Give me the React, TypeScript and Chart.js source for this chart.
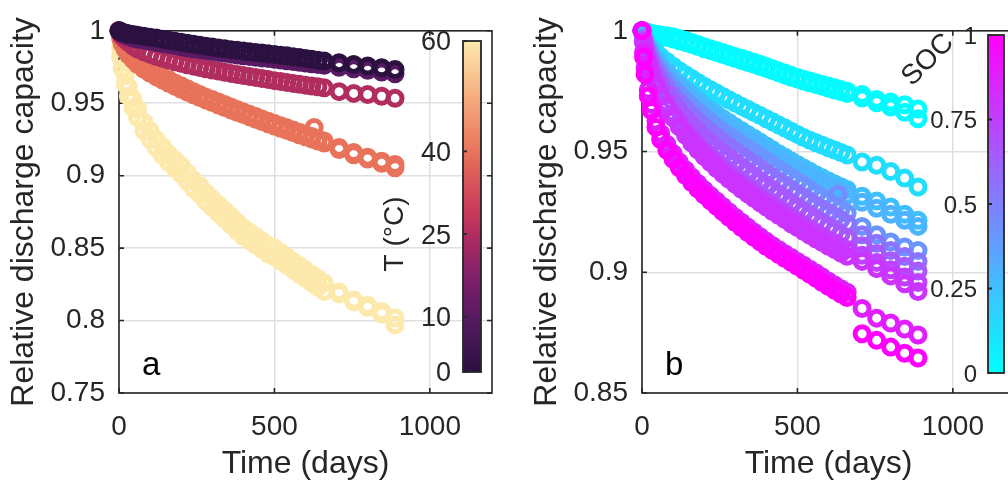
import React, { useEffect, useRef } from 'react';
import { Chart, registerables } from 'chart.js';

Chart.register(...registerables);

const FONT = "'Liberation Sans', Arial, Helvetica, sans-serif";
const INK = '#262626';

// ---------- shared x data (days) ----------
const DAYS = [0, 5, 10, 20, 30, 45, 60, 80, 100, 120, 140, 160, 180, 200, 220, 240, 260, 280, 300, 320, 340, 360, 380, 400, 420, 440, 460, 480, 500, 520, 540, 560, 580, 600, 620, 640, 660, 708, 755, 800, 845, 888];
const X_TICKS = [0, 500, 1000];
const X_MAX = 1200;

// ---------- panel a: temperature ----------
const A_Y_TICKS = [0.75, 0.8, 0.85, 0.9, 0.95, 1];
const A_CBAR_TICKS = [0, 10, 25, 40, 60];
const A_T0 = [1.0, 0.9995, 0.999, 0.9985, 0.998, 0.9975, 0.997, 0.9963, 0.9955, 0.995, 0.9942, 0.9935, 0.9928, 0.9921, 0.9914, 0.9907, 0.99, 0.9894, 0.9888, 0.9882, 0.9876, 0.987, 0.9865, 0.986, 0.9855, 0.985, 0.9846, 0.9842, 0.9837, 0.9832, 0.9827, 0.9821, 0.9815, 0.9809, 0.9803, 0.9797, 0.9792, 0.978, 0.9768, 0.9757, 0.9745, 0.9733];
const A_T10 = [1.0, 0.999, 0.998, 0.997, 0.996, 0.995, 0.9943, 0.9935, 0.9928, 0.992, 0.9912, 0.9905, 0.9898, 0.989, 0.9883, 0.9876, 0.987, 0.9863, 0.9857, 0.9851, 0.9845, 0.9839, 0.9833, 0.9828, 0.9823, 0.9818, 0.9813, 0.9808, 0.9803, 0.9798, 0.9793, 0.9788, 0.9783, 0.9778, 0.9772, 0.9767, 0.9762, 0.9748, 0.9738, 0.9727, 0.9716, 0.9703];
const A_T25 = [1.0, 0.998, 0.996, 0.994, 0.992, 0.9895, 0.9875, 0.9855, 0.9838, 0.9822, 0.981, 0.9798, 0.9787, 0.9776, 0.9766, 0.9756, 0.9747, 0.9738, 0.973, 0.9722, 0.9714, 0.9706, 0.9698, 0.9691, 0.9684, 0.9677, 0.967, 0.9663, 0.9656, 0.965, 0.9643, 0.9637, 0.9631, 0.9625, 0.9619, 0.9613, 0.9607, 0.958, 0.9568, 0.956, 0.9548, 0.9534];
const A_T40 = [1.0, 0.997, 0.994, 0.99, 0.987, 0.9835, 0.98, 0.9765, 0.9735, 0.971, 0.9685, 0.9662, 0.964, 0.962, 0.96, 0.958, 0.956, 0.9542, 0.9525, 0.9508, 0.9491, 0.9474, 0.9457, 0.944, 0.9424, 0.9408, 0.9392, 0.9376, 0.936, 0.9345, 0.933, 0.9315, 0.93, 0.9285, 0.927, 0.9255, 0.924, 0.9195, 0.916, 0.9128, 0.91, 0.9077];
const A_T40B = [1.0, 0.995, 0.991, 0.987, 0.9835, 0.98, 0.9768, 0.9735, 0.9707, 0.9683, 0.966, 0.9638, 0.9617, 0.9597, 0.9577, 0.9558, 0.954, 0.9522, 0.9505, 0.9488, 0.9471, 0.9454, 0.9438, 0.9422, 0.9406, 0.939, 0.9374, 0.9358, 0.9343, 0.9328, 0.9313, 0.9298, 0.9283, 0.9268, 0.9254, 0.924, 0.9226, 0.918, 0.9145, 0.9115, 0.9085, 0.9055];
const A_T60A = [1.0, 0.988, 0.98, 0.969, 0.961, 0.953, 0.946, 0.937, 0.931, 0.925, 0.92, 0.915, 0.911, 0.907, 0.902, 0.897, 0.893, 0.888, 0.884, 0.88, 0.876, 0.872, 0.868, 0.864, 0.861, 0.858, 0.855, 0.852, 0.85, 0.847, 0.844, 0.841, 0.838, 0.835, 0.832, 0.829, 0.826, 0.8198, 0.8142, 0.8105, 0.8062, 0.8018];
const A_T60B = [1.0, 0.982, 0.974, 0.963, 0.955, 0.947, 0.94, 0.931, 0.925, 0.919, 0.914, 0.909, 0.905, 0.901, 0.896, 0.891, 0.887, 0.882, 0.878, 0.874, 0.87, 0.866, 0.862, 0.858, 0.855, 0.852, 0.849, 0.846, 0.844, 0.841, 0.838, 0.835, 0.832, 0.829, 0.826, 0.823, 0.82, 0.8185, 0.813, 0.809, 0.8045, 0.797];
const A_STRAY_DAYS = [628];
const A_STRAY_CAP = [0.9333];

// ---------- panel b: state of charge ----------
const B_Y_TICKS = [0.85, 0.9, 0.95, 1];
const B_CBAR_TICKS = [0, 0.25, 0.5, 0.75, 1];
const B_S1 = [1.0, 0.9998, 0.9996, 0.9993, 0.999, 0.9986, 0.9983, 0.998, 0.9975, 0.9968, 0.996, 0.9952, 0.9943, 0.9934, 0.9926, 0.9918, 0.991, 0.9902, 0.9894, 0.9886, 0.9878, 0.987, 0.9861, 0.9852, 0.9843, 0.9834, 0.9825, 0.9816, 0.9807, 0.9799, 0.9792, 0.9785, 0.9778, 0.9771, 0.9764, 0.9757, 0.975, 0.9736, 0.9716, 0.9705, 0.9694, 0.9676];
const B_S2 = [1.0, 0.9997, 0.9994, 0.999, 0.9986, 0.9981, 0.9977, 0.9972, 0.9966, 0.9959, 0.9951, 0.9943, 0.9935, 0.9926, 0.9918, 0.991, 0.9902, 0.9893, 0.9885, 0.9877, 0.9869, 0.9861, 0.9852, 0.9844, 0.9835, 0.9826, 0.9817, 0.9808, 0.98, 0.9792, 0.9785, 0.9777, 0.977, 0.9762, 0.9755, 0.9748, 0.974, 0.9722, 0.9702, 0.9684, 0.9663, 0.9636];
const B_S3 = [1.0, 0.998, 0.9968, 0.995, 0.9934, 0.9912, 0.9893, 0.9873, 0.9853, 0.9835, 0.9818, 0.9802, 0.9786, 0.977, 0.9756, 0.9742, 0.9728, 0.9714, 0.9701, 0.9688, 0.9675, 0.9662, 0.9649, 0.9636, 0.9623, 0.961, 0.9597, 0.9584, 0.9571, 0.9558, 0.9547, 0.9536, 0.9526, 0.9516, 0.9506, 0.9496, 0.9486, 0.9457, 0.9443, 0.9417, 0.939, 0.9353];
const B_S4 = [1.0, 0.9975, 0.996, 0.9935, 0.9913, 0.9885, 0.986, 0.9832, 0.9805, 0.978, 0.9757, 0.9735, 0.9713, 0.9692, 0.9673, 0.9655, 0.9637, 0.962, 0.9603, 0.9587, 0.9571, 0.9555, 0.9539, 0.9523, 0.9507, 0.9491, 0.9476, 0.9461, 0.9446, 0.9432, 0.9418, 0.9404, 0.9391, 0.9378, 0.9366, 0.9354, 0.9343, 0.9315, 0.9295, 0.927, 0.924, 0.9215];
const B_S5 = [1.0, 0.9972, 0.9955, 0.9928, 0.9905, 0.9875, 0.9848, 0.9818, 0.979, 0.9764, 0.974, 0.9717, 0.9695, 0.9674, 0.9654, 0.9635, 0.9617, 0.9599, 0.9582, 0.9565, 0.9549, 0.9533, 0.9517, 0.9501, 0.9485, 0.947, 0.9455, 0.944, 0.9425, 0.9411, 0.9397, 0.9383, 0.937, 0.9357, 0.9344, 0.9332, 0.932, 0.929, 0.9265, 0.924, 0.9215, 0.919];
const B_S6 = [1.0, 0.997, 0.995, 0.9918, 0.9892, 0.9858, 0.983, 0.9796, 0.9765, 0.9738, 0.9712, 0.9688, 0.9665, 0.9643, 0.9622, 0.9602, 0.9583, 0.9565, 0.9547, 0.953, 0.9513, 0.9496, 0.9479, 0.9462, 0.9445, 0.9428, 0.9411, 0.9394, 0.9377, 0.9361, 0.9345, 0.9325, 0.9309, 0.9293, 0.9277, 0.9261, 0.9245, 0.919, 0.9155, 0.9125, 0.9105, 0.909];
const B_S7 = [1.0, 0.9965, 0.9942, 0.9905, 0.9875, 0.9838, 0.9806, 0.9768, 0.9735, 0.9705, 0.9677, 0.9651, 0.9627, 0.9604, 0.9582, 0.9561, 0.9541, 0.9522, 0.9503, 0.9485, 0.9467, 0.9449, 0.9431, 0.9413, 0.9395, 0.9377, 0.936, 0.9343, 0.9326, 0.931, 0.9294, 0.9278, 0.9262, 0.9247, 0.9232, 0.9217, 0.9202, 0.9155, 0.912, 0.909, 0.9065, 0.9045];
const B_S8 = [1.0, 0.996, 0.9935, 0.9893, 0.9858, 0.9815, 0.978, 0.974, 0.9703, 0.967, 0.964, 0.9612, 0.9586, 0.9561, 0.9538, 0.9516, 0.9495, 0.9475, 0.9455, 0.9436, 0.9417, 0.9398, 0.9379, 0.936, 0.9341, 0.9322, 0.9304, 0.9286, 0.9268, 0.9251, 0.9234, 0.9218, 0.9202, 0.9187, 0.9172, 0.9157, 0.9143, 0.911, 0.9078, 0.9048, 0.9025, 0.9005];
const B_S9 = [1.0, 0.9955, 0.9925, 0.9875, 0.9835, 0.9785, 0.9745, 0.97, 0.9658, 0.962, 0.9585, 0.9553, 0.9524, 0.9497, 0.9472, 0.9448, 0.9425, 0.9403, 0.9382, 0.9362, 0.9343, 0.9325, 0.9307, 0.929, 0.9273, 0.9256, 0.924, 0.9224, 0.9208, 0.9193, 0.9178, 0.9163, 0.9149, 0.9135, 0.9121, 0.9107, 0.9094, 0.907, 0.904, 0.901, 0.898, 0.8958];
const B_S10 = [1.0, 0.995, 0.9918, 0.9865, 0.9822, 0.977, 0.9728, 0.9682, 0.964, 0.9602, 0.9567, 0.9535, 0.9506, 0.9479, 0.9454, 0.943, 0.9407, 0.9385, 0.9364, 0.9344, 0.9325, 0.9306, 0.9288, 0.927, 0.9252, 0.9235, 0.9218, 0.9201, 0.9185, 0.9169, 0.9153, 0.9138, 0.9123, 0.9108, 0.9094, 0.908, 0.9066, 0.9045, 0.9015, 0.8985, 0.8952, 0.892];
const B_S11 = [1.0, 0.991, 0.9845, 0.9755, 0.9695, 0.9625, 0.9575, 0.953, 0.9492, 0.9457, 0.9425, 0.9395, 0.9368, 0.9342, 0.9318, 0.9295, 0.9272, 0.925, 0.9228, 0.9207, 0.9187, 0.9167, 0.9147, 0.9128, 0.911, 0.9093, 0.9077, 0.9061, 0.9045, 0.9029, 0.9013, 0.8997, 0.898, 0.8963, 0.8947, 0.8932, 0.8917, 0.885, 0.881, 0.879, 0.8765, 0.874];
const B_S12 = [1.0, 0.989, 0.982, 0.973, 0.967, 0.96, 0.955, 0.9505, 0.9468, 0.9433, 0.9401, 0.9372, 0.9345, 0.932, 0.9296, 0.9273, 0.925, 0.9228, 0.9206, 0.9185, 0.9165, 0.9145, 0.9126, 0.9107, 0.909, 0.9073, 0.9057, 0.9041, 0.9025, 0.9008, 0.8992, 0.8975, 0.8958, 0.8941, 0.8925, 0.891, 0.8895, 0.8745, 0.8718, 0.869, 0.8665, 0.8645];
const B_SOC = [0, 0.02, 0.13, 0.25, 0.3, 0.42, 0.55, 0.65, 0.75, 0.8, 0.88, 1.0];
const B_STRAY_DAYS = [630];
const B_STRAY_CAP = [0.9323];
const B_STRAY_SOC = 0.45;

// ---------- colormaps ----------
const CMAP_A = ['#2b1140', '#581a62', '#84206a', '#b12d5f', '#cc3e5b', '#e8735a', '#f5ad7f', '#fde9ab'];
const CMAP_A_POS = [0, 0.167, 0.3, 0.417, 0.5, 0.667, 0.83, 1];

function hexRgb(h: string) {
  const n = parseInt(h.slice(1), 16);
  return [(n >> 16) & 255, (n >> 8) & 255, n & 255];
}
function magmaLike(f: number) {
  for (let i = 0; i < CMAP_A_POS.length - 1; i++) {
    if (f <= CMAP_A_POS[i + 1] + 1e-9) {
      const t = (f - CMAP_A_POS[i]) / (CMAP_A_POS[i + 1] - CMAP_A_POS[i]);
      const a = hexRgb(CMAP_A[i]);
      const b = hexRgb(CMAP_A[i + 1]);
      const c = a.map((v, k) => Math.round(v + (b[k] - v) * t));
      return `rgb(${c[0]},${c[1]},${c[2]})`;
    }
  }
  return CMAP_A[CMAP_A.length - 1];
}
function cool(f: number) {
  return `rgb(${Math.round(255 * f)},${Math.round(255 * (1 - f))},255)`;
}

function ring(days: number[], caps: number[], color: string) {
  return {
    data: days.map((d, i) => ({ x: d, y: caps[i] })),
    borderColor: color,
    pointBorderColor: color,
    backgroundColor: 'rgba(0,0,0,0)',
    pointBackgroundColor: 'rgba(0,0,0,0)',
    pointRadius: 7,
    borderWidth: 5,
    pointBorderWidth: 5,
    pointStyle: 'circle',
    showLine: false,
    clip: false,
  };
}

const fmt = (v: number) => String(+(+v).toFixed(4));

function decor(p: any) {
  return {
    id: 'decor',
    beforeDatasetsDraw(chart: any) {
      const { ctx, chartArea: a } = chart;
      const xs = chart.scales.x;
      const ys = chart.scales.y;
      ctx.save();
      ctx.strokeStyle = INK;
      ctx.lineWidth = 1.6;
      ctx.strokeRect(a.left, a.top, a.right - a.left, a.bottom - a.top);
      ctx.beginPath();
      const tl = 5;
      for (const v of X_TICKS) {
        const x = xs.getPixelForValue(v);
        ctx.moveTo(x, a.bottom); ctx.lineTo(x, a.bottom - tl);
        ctx.moveTo(x, a.top); ctx.lineTo(x, a.top + tl);
      }
      for (const v of p.yTicks) {
        const y = ys.getPixelForValue(v);
        ctx.moveTo(a.left, y); ctx.lineTo(a.left + tl, y);
        ctx.moveTo(a.right, y); ctx.lineTo(a.right - tl, y);
      }
      ctx.stroke();
      ctx.restore();
    },
    afterDraw(chart: any) {
      const { ctx, chartArea: a } = chart;
      // y-axis title
      ctx.save();
      ctx.fillStyle = INK;
      ctx.font = `32px ${FONT}`;
      ctx.textAlign = 'center';
      ctx.textBaseline = 'middle';
      ctx.translate(24, (a.top + a.bottom) / 2);
      ctx.rotate(-Math.PI / 2);
      ctx.fillText('Relative discharge capacity', 0, 0);
      ctx.restore();
      // panel letter
      ctx.save();
      ctx.fillStyle = '#000';
      ctx.font = `33px ${FONT}`;
      ctx.textAlign = 'left';
      ctx.textBaseline = 'alphabetic';
      ctx.fillText(p.letter, a.left + 23, 375);
      ctx.restore();
      // colorbar
      const cb = p.cbar;
      ctx.save();
      const g = ctx.createLinearGradient(0, cb.bottom, 0, cb.top);
      for (let i = 0; i <= 40; i++) g.addColorStop(i / 40, cb.map(i / 40));
      ctx.fillStyle = g;
      ctx.fillRect(cb.x, cb.top, cb.w, cb.bottom - cb.top);
      ctx.strokeStyle = INK;
      ctx.lineWidth = 1.8;
      ctx.strokeRect(cb.x, cb.top, cb.w, cb.bottom - cb.top);
      const pos = (v: number) => cb.bottom - ((v - cb.min) / (cb.max - cb.min)) * (cb.bottom - cb.top);
      ctx.beginPath();
      for (const v of cb.ticks) {
        const y = pos(v);
        ctx.moveTo(cb.x, y); ctx.lineTo(cb.x + 4, y);
      }
      ctx.stroke();
      ctx.fillStyle = INK;
      ctx.font = `${cb.fontSize}px ${FONT}`;
      ctx.textAlign = 'right';
      ctx.textBaseline = 'middle';
      for (const v of cb.ticks) ctx.fillText(fmt(v), cb.labelX, pos(v) + 2);
      ctx.font = `28px ${FONT}`;
      ctx.textAlign = 'center';
      ctx.translate(cb.titleX, cb.titleY);
      ctx.rotate(cb.titleRot);
      ctx.fillText(cb.title, 0, 0);
      ctx.restore();
    },
  };
}

function makeConfig(p: any) {
  const grid = { color: '#dfdfdf', lineWidth: 1.5, drawTicks: false };
  return {
    type: 'scatter',
    data: { datasets: p.datasets },
    options: {
      responsive: false,
      animation: false,
      devicePixelRatio: 1,
      events: [],
      layout: { padding: { top: 23, right: 11, bottom: 0, left: 0 } },
      plugins: { legend: { display: false }, tooltip: { enabled: false } },
      elements: { point: { radius: 7, borderWidth: 5 } },
      scales: {
        x: {
          type: 'linear',
          min: 0,
          max: X_MAX,
          afterBuildTicks: (s: any) => { s.ticks = X_TICKS.map((v) => ({ value: v })); },
          afterFit: (s: any) => { s.height = 90; },
          grid,
          border: { display: false },
          ticks: { color: INK, font: { family: FONT, size: 28 }, padding: 17, maxRotation: 0, autoSkip: false, callback: (v: any) => fmt(v) },
          title: { display: true, text: 'Time (days)', color: INK, font: { family: FONT, size: 32 }, padding: { top: 0, bottom: 0 } },
        },
        y: {
          type: 'linear',
          min: p.yTicks[0],
          max: 1,
          afterBuildTicks: (s: any) => { s.ticks = p.yTicks.map((v: number) => ({ value: v })); },
          afterFit: (s: any) => { s.width = 119; },
          grid,
          border: { display: false },
          ticks: { color: INK, font: { family: FONT, size: 28 }, padding: 14, autoSkip: false, callback: (v: any) => fmt(v) },
        },
      },
    },
    plugins: [decor(p)],
  };
}

const A_SERIES = [
  { t: 0, y: A_T0 },
  { t: 10, y: A_T10 },
  { t: 25, y: A_T25 },
  { t: 40, y: A_T40 },
  { t: 40, y: A_T40B },
  { t: 60, y: A_T60A },
  { t: 60, y: A_T60B },
];
const B_SERIES = [B_S1, B_S2, B_S3, B_S4, B_S5, B_S6, B_S7, B_S8, B_S9, B_S10, B_S11, B_S12];

export default function App() {
  const refA = useRef<HTMLCanvasElement>(null);
  const refB = useRef<HTMLCanvasElement>(null);

  useEffect(() => {
    const aSets: any[] = [];
    A_SERIES.slice(0, 3).forEach((s) => aSets.push(ring(DAYS, s.y, magmaLike(s.t / 60))));
    aSets.push(ring(A_STRAY_DAYS, A_STRAY_CAP, magmaLike(40 / 60)));
    A_SERIES.slice(3).forEach((s) => aSets.push(ring(DAYS, s.y, magmaLike(s.t / 60))));

    const bSets: any[] = [];
    for (let i = B_SERIES.length - 1; i >= 0; i--) {
      bSets.push(ring(DAYS, B_SERIES[i], cool(B_SOC[i])));
      if (i === 6) bSets.push(ring(B_STRAY_DAYS, B_STRAY_CAP, cool(B_STRAY_SOC)));
    }

    const cfgA = makeConfig({
      datasets: aSets,
      yTicks: A_Y_TICKS,
      letter: 'a',
      cbar: {
        x: 463, w: 18, top: 41, bottom: 372, min: 0, max: 60, ticks: A_CBAR_TICKS,
        map: (f: number) => magmaLike(f), labelX: 451, fontSize: 27,
        title: 'T (°C)', titleX: 395, titleY: 234, titleRot: -Math.PI / 2,
      },
    });
    const cfgB = makeConfig({
      datasets: bSets,
      yTicks: B_Y_TICKS,
      letter: 'b',
      cbar: {
        x: 465, w: 16, top: 35, bottom: 373, min: 0, max: 1, ticks: B_CBAR_TICKS,
        map: (f: number) => cool(f), labelX: 454, fontSize: 24,
        title: 'SOC', titleX: 405, titleY: 60, titleRot: -Math.PI / 4,
      },
    });
    const ca = new Chart(refA.current as HTMLCanvasElement, cfgA as any);
    const cb = new Chart(refB.current as HTMLCanvasElement, cfgB as any);
    return () => {
      ca.destroy();
      cb.destroy();
    };
  }, []);

  return (
    <div style={{ position: 'fixed', left: 0, top: 0, width: 1008, height: 483, overflow: 'hidden', background: '#fff' }}>
      <canvas ref={refA} width={504} height={483} style={{ position: 'absolute', left: 0, top: 0, width: 504, height: 483 }} />
      <canvas ref={refB} width={504} height={483} style={{ position: 'absolute', left: 523, top: 0, width: 504, height: 483 }} />
    </div>
  );
}
